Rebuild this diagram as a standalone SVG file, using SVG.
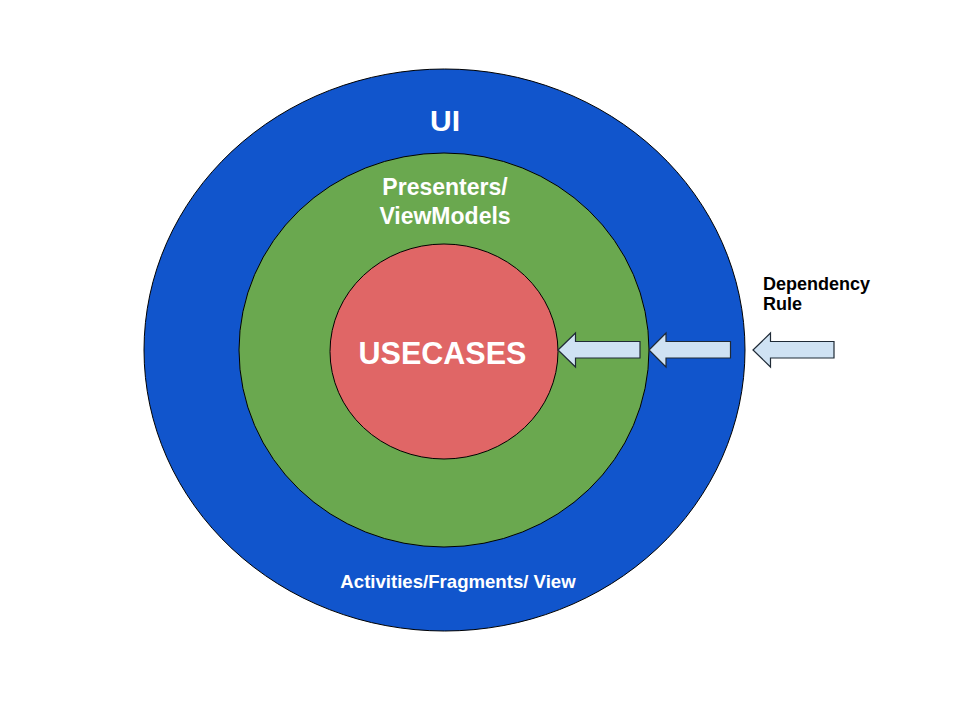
<svg xmlns="http://www.w3.org/2000/svg" width="959" height="721" viewBox="0 0 959 721">
  <style>
    .ring { stroke: #000000; stroke-width: 1; }
    .label { font-family: "Liberation Sans", Arial, sans-serif; font-weight: bold; fill: #ffffff; text-anchor: middle; }
    .note { font-family: "Liberation Sans", Arial, sans-serif; font-weight: bold; fill: #000000; font-size: 18px; }
    .arrow { fill: #cfe2f3; stroke: #1f2a36; stroke-width: 1.2; stroke-linejoin: miter; }
  </style>
  <rect width="959" height="721" fill="#ffffff"/>

  <!-- Outer layer: UI -->
  <g id="ui">
    <ellipse class="ring" cx="444.5" cy="350" rx="300.5" ry="281" fill="#1155cc"/>
    <text class="label" x="445" y="130.5" font-size="30">UI</text>
    <text class="label" x="458" y="588" font-size="18.6">Activities/Fragments/ View</text>
  </g>

  <!-- Middle layer: Presenters / ViewModels -->
  <g id="presenters">
    <ellipse class="ring" cx="444" cy="350" rx="205" ry="197" fill="#6aa84f"/>
    <text class="label" x="445" y="194.5" font-size="23">Presenters/</text>
    <text class="label" x="445" y="223.5" font-size="23">ViewModels</text>
  </g>

  <!-- Core layer: Use cases -->
  <g id="usecases">
    <ellipse class="ring" cx="444" cy="351.5" rx="114" ry="107.5" fill="#e06666"/>
    <text class="label" x="442.5" y="364" font-size="30.5">USECASES</text>
  </g>

  <!-- Dependency direction arrows -->
  <g id="connectors">
    <polygon class="arrow" points="558,350 575.5,333 575.5,341.5 640,341.5 640,358 575.5,358 575.5,367"/>
    <polygon class="arrow" points="649,350 666,333 666,341.5 730.5,341.5 730.5,358 666,358 666,367"/>
    <polygon class="arrow" points="753,350 770.5,333 770.5,341.5 834,341.5 834,358 770.5,358 770.5,367"/>
  </g>

  <g id="dependency-rule">
    <text class="note" x="763" y="289.5">Dependency</text>
    <text class="note" x="763" y="310">Rule</text>
  </g>
</svg>
